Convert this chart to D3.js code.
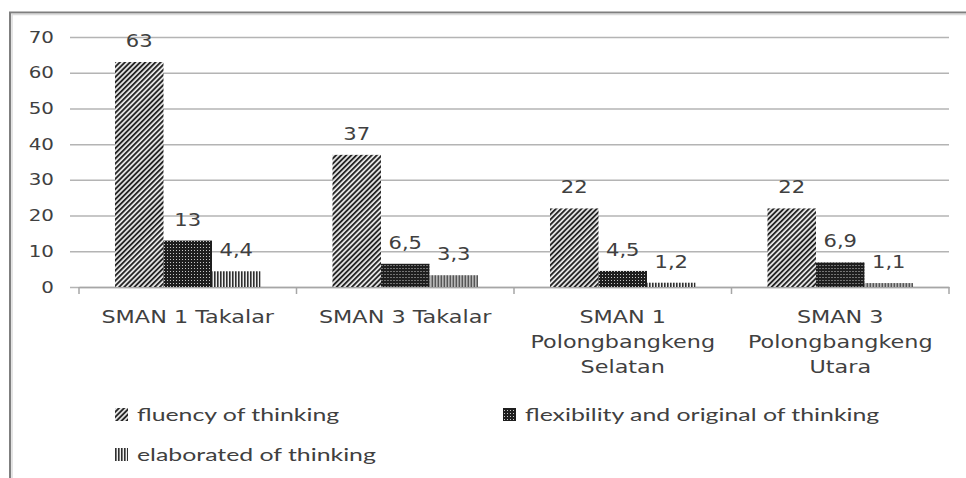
<!DOCTYPE html>
<html lang="en">
<head>
<meta charset="UTF-8">
<title>Creative thinking by school</title>
<script src="https://d3js.org/d3.v7.min.js"></script>
<style>
  body { margin: 0; background: #fff; }
  svg { display: block; }
  .tick text { fill: #404040; }
  .val { font-family: "DejaVu Sans", Verdana, sans-serif; font-size: 17px; fill: #404040; }
  .cat { font-family: "DejaVu Sans", Verdana, sans-serif; font-size: 18px; fill: #404040; }
  .leg { font-family: Lato, "Noto Sans", sans-serif; font-size: 18px; fill: #404040; }
</style>
</head>
<body>
<svg id="chart"></svg>
<script>
// data
const categories = ["SMAN 1 Takalar", "SMAN 3 Takalar", "SMAN 1\nPolongbangkeng\nSelatan", "SMAN 3\nPolongbangkeng\nUtara"];
const series = ["fluency of thinking", "flexibility and original of thinking", "elaborated of thinking"];
const fluency = [63, 37, 22, 22];
const flexibility = [13, 6.5, 4.5, 6.9];
const elaborated = [4.4, 3.3, 1.2, 1.1];
const yTicks = [0, 10, 20, 30, 40, 50, 60, 70];

const values = [fluency, flexibility, elaborated];
const W = 966, H = 478;
const sx = 1.24;   // the source picture is stretched sideways
const sxLeg = 1.38;
const fmt = v => String(v).replace(".", ",");

const svg = d3.select("#chart").attr("width", W).attr("height", H);

// patterns
const defs = svg.append("defs");
const p1 = defs.append("pattern").attr("id", "pat0").attr("patternUnits", "userSpaceOnUse")
  .attr("width", 3.6).attr("height", 3.6).attr("patternTransform", "rotate(45)");
p1.append("rect").attr("width", 3.6).attr("height", 3.6).attr("fill", "#ececec");
p1.append("rect").attr("width", 1.9).attr("height", 3.6).attr("fill", "#262626");

const p2 = defs.append("pattern").attr("id", "pat1").attr("patternUnits", "userSpaceOnUse")
  .attr("width", 3).attr("height", 3);
p2.append("rect").attr("width", 3).attr("height", 3).attr("fill", "#1e1e1e");
p2.append("rect").attr("x", 1).attr("y", 1).attr("width", 1).attr("height", 1).attr("fill", "#c8c8c8");

const p3 = defs.append("pattern").attr("id", "pat2").attr("patternUnits", "userSpaceOnUse")
  .attr("width", 3).attr("height", 3);
p3.append("rect").attr("width", 3).attr("height", 3).attr("fill", "#f0f0f0");
p3.append("rect").attr("width", 1.6).attr("height", 3).attr("fill", "#303030");

// frame
svg.append("path").attr("d", `M10,${H} V12.5 H${W}`)
  .attr("fill", "none").attr("stroke", "#7f7f7f").attr("stroke-width", 2);
svg.append("path").attr("d", `M12,${H} V14.5 H${W}`)
  .attr("fill", "none").attr("stroke", "#dcdcdc").attr("stroke-width", 1.5);

// scales
const x = d3.scaleBand().domain(categories).range([79, 949]).padding(0);
const xs = d3.scaleBand().domain(series).range([0, x.bandwidth()])
  .paddingInner(0).paddingOuter(0.742);
const y = d3.scaleLinear().domain([0, 70]).range([287, 37]);

// y axis with gridlines
const yAxis = svg.append("g").attr("transform", "translate(70,0)")
  .call(d3.axisLeft(y).tickValues(yTicks).tickSize(-(949 - 70)).tickPadding(13));
yAxis.select(".domain").remove();
yAxis.selectAll(".tick line").attr("stroke", "#b4b4b4").attr("stroke-width", 1.5);
yAxis.selectAll(".tick text")
  .style("font-family", '"DejaVu Sans", Verdana, sans-serif').style("font-size", "16px")
  .attr("transform", `scale(${sx},1)`);

// x axis
const xAxis = svg.append("g").attr("transform", "translate(0,287)")
  .call(d3.axisBottom(x).tickSize(0).tickFormat(""));
xAxis.select(".domain").attr("stroke", "#a6a6a6").attr("stroke-width", 1.5);
const bounds = categories.map(c => x(c)).concat([x.range()[1]]);
svg.append("g").selectAll("line").data(bounds).join("line")
  .attr("x1", d => d).attr("x2", d => d).attr("y1", 287).attr("y2", 294)
  .attr("stroke", "#a6a6a6").attr("stroke-width", 1.5);

// category labels
const cl = svg.append("g").selectAll("text").data(categories).join("text")
  .attr("class", "cat").attr("text-anchor", "middle")
  .attr("transform", d => `translate(${x(d) + x.bandwidth() / 2},323) scale(${sx},1)`);
cl.selectAll("tspan").data(d => d.split("\n")).join("tspan")
  .attr("x", 0).attr("y", (d, i) => i * 25).text(d => d);

// bars
const groups = svg.append("g").selectAll("g").data(categories).join("g")
  .attr("transform", d => `translate(${x(d)},0)`);
groups.selectAll("rect")
  .data((c, ci) => series.map((s, si) => ({ s, si, v: values[si][ci] })))
  .join("rect")
  .attr("x", d => xs(d.s))
  .attr("y", d => y(d.v))
  .attr("width", xs.bandwidth())
  .attr("height", d => y(0) - y(d.v))
  .attr("fill", d => `url(#pat${d.si})`);

// value labels
groups.selectAll("text.val")
  .data((c, ci) => series.map((s, si) => ({ s, si, v: values[si][ci] })))
  .join("text").attr("class", "val").attr("text-anchor", "middle")
  .attr("transform", d => `translate(${xs(d.s) + xs.bandwidth() / 2},${y(d.v) - 15}) scale(${sx},1)`)
  .text(d => fmt(d.v));

// legend
const legPos = [[115, 421], [503, 421], [115, 461]];
const leg = svg.append("g").selectAll("g").data(series).join("g")
  .attr("transform", (d, i) => `translate(${legPos[i][0]},${legPos[i][1]})`);
leg.append("rect").attr("x", 0).attr("y", -13).attr("width", 13).attr("height", 13)
  .attr("fill", (d, i) => `url(#pat${i})`);
leg.append("text").attr("class", "leg")
  .attr("transform", `translate(22,0) scale(${sxLeg},1)`).text(d => d);
</script>
</body>
</html>
